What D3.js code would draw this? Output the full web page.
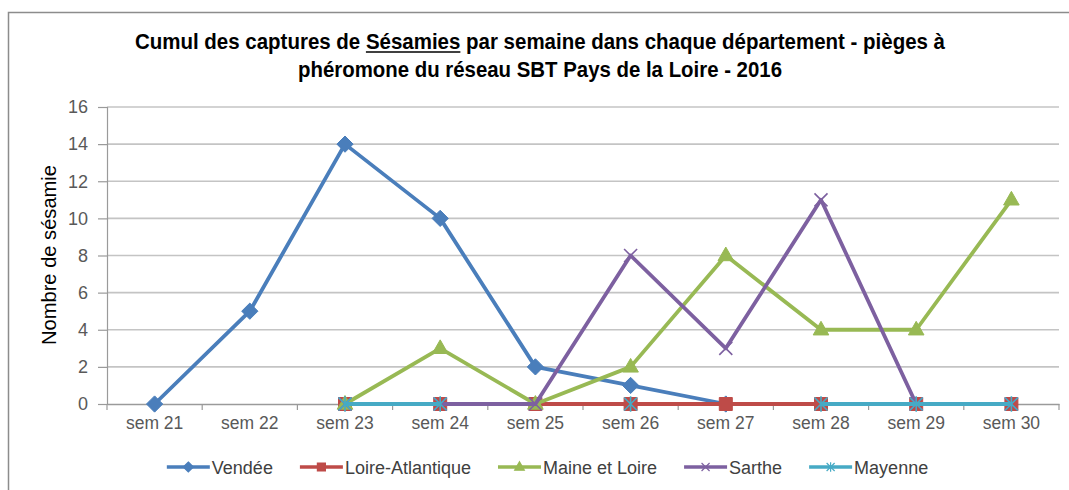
<!DOCTYPE html>
<html>
<head>
<meta charset="utf-8">
<script src="https://cdn.jsdelivr.net/npm/d3@7"></script>
<style>
  body { margin: 0; background: #fff; }
  svg { display: block; }
</style>
</head>
<body>
<div class="root"></div>
<script>
const weeks = ["sem 21", "sem 22", "sem 23", "sem 24", "sem 25", "sem 26", "sem 27", "sem 28", "sem 29", "sem 30"];
const vendee = [0, 5, 14, 10, 2, 1, 0, null, null, null];
const loireAtlantique = [null, null, 0, 0, 0, 0, 0, 0, 0, 0];
const maineEtLoire = [null, null, 0, 3, 0, 2, 8, 4, 4, 11];
const sarthe = [null, null, 0, 0, 0, 8, 3, 11, 0, 0];
const mayenne = [null, null, 0, 0, null, 0, null, 0, 0, 0];
const yTicks = [0, 2, 4, 6, 8, 10, 12, 14, 16];

const series = [
  { name: "Vendée", values: vendee, color: "#4a7ebb", marker: "diamond" },
  { name: "Loire-Atlantique", values: loireAtlantique, color: "#be4b48", marker: "square" },
  { name: "Maine et Loire", values: maineEtLoire, color: "#98b954", marker: "triangle" },
  { name: "Sarthe", values: sarthe, color: "#7d60a0", marker: "x" },
  { name: "Mayenne", values: mayenne, color: "#46aac5", marker: "star" }
];

const width = 1069;
const height = 490;
const plot = { left: 107, right: 1059, top: 107, bottom: 404 };
const font = "'Liberation Sans', Arial, sans-serif";

const svg = d3.select("div.root").append("svg")
  .attr("width", width)
  .attr("height", height);

// outer frame
svg.append("rect")
  .attr("x", 8.5).attr("y", 12.5)
  .attr("width", 1080).attr("height", 500)
  .attr("fill", "#fff")
  .attr("stroke", "#8c8c8c")
  .attr("stroke-width", 1.5);

// title, squeezed to the narrow width of the original font
const line1 = "Cumul des captures de Sésamies par semaine dans chaque département - pièges à";
const t1 = svg.append("text")
  .attr("x", 135).attr("y", 49)
  .attr("textLength", 810)
  .attr("lengthAdjust", "spacingAndGlyphs")
  .attr("font-family", font)
  .attr("font-weight", "bold")
  .attr("font-size", 22)
  .attr("fill", "#000")
  .text(line1);
svg.append("text")
  .attr("x", 298).attr("y", 77)
  .attr("textLength", 484)
  .attr("lengthAdjust", "spacingAndGlyphs")
  .attr("font-family", font)
  .attr("font-weight", "bold")
  .attr("font-size", 22)
  .attr("fill", "#000")
  .text("phéromone du réseau SBT Pays de la Loire - 2016");

// underline under "Sésamies"
const uStart = line1.indexOf("Sésamies");
const uEnd = uStart + "Sésamies".length - 1;
const tn = t1.node();
const ux0 = tn.getStartPositionOfChar(uStart).x;
const ux1 = tn.getEndPositionOfChar(uEnd).x;
svg.append("line")
  .attr("x1", ux0).attr("x2", ux1)
  .attr("y1", 52).attr("y2", 52)
  .attr("stroke", "#000")
  .attr("stroke-width", 1.5);

const x = d3.scaleBand().domain(weeks).range([plot.left, plot.right]);
const cx = d => x(d) + x.bandwidth() / 2;
const y = d3.scaleLinear().domain([0, 16]).range([plot.bottom, plot.top]);

// gridlines
svg.append("g")
  .selectAll("line")
  .data(yTicks.filter(d => d > 0))
  .join("line")
  .attr("x1", plot.left).attr("x2", plot.right)
  .attr("y1", d => y(d)).attr("y2", d => y(d))
  .attr("stroke", "#c4c4c4")
  .attr("stroke-width", 1.6);

// y axis
const yAxis = svg.append("g")
  .attr("transform", `translate(${plot.left},0)`)
  .call(d3.axisLeft(y).tickValues(yTicks).tickSize(9).tickPadding(10).tickFormat(d3.format("d")));
yAxis.select(".domain").attr("stroke", "#9a9a9a").attr("stroke-width", 1.2);
yAxis.selectAll(".tick line").attr("stroke", "#9a9a9a").attr("stroke-width", 1.2);
yAxis.selectAll("text")
  .attr("font-family", font)
  .attr("font-size", 18)
  .attr("fill", "#595959");

// x axis
const xAxis = svg.append("g")
  .attr("transform", `translate(0,${plot.bottom})`)
  .call(d3.axisBottom(x).tickSize(0).tickPadding(13));
xAxis.select(".domain").attr("stroke", "#9a9a9a").attr("stroke-width", 1.6);
xAxis.selectAll("text")
  .attr("font-family", font)
  .attr("font-size", 17.5)
  .attr("fill", "#595959");
xAxis.selectAll("line.bound")
  .data(weeks.map(d => x(d)).concat([plot.right]))
  .join("line")
  .attr("class", "bound")
  .attr("x1", d => d).attr("x2", d => d)
  .attr("y1", 0).attr("y2", 6)
  .attr("stroke", "#9a9a9a")
  .attr("stroke-width", 1.2);

// y label
svg.append("text")
  .attr("transform", "translate(56,255) rotate(-90)")
  .attr("text-anchor", "middle")
  .attr("font-family", font)
  .attr("font-size", 20)
  .attr("fill", "#000")
  .attr("textLength", 180)
  .attr("lengthAdjust", "spacingAndGlyphs")
  .text("Nombre de sésamie");

function markerPath(type, s) {
  const h = s / 2;
  switch (type) {
    case "diamond": return `M0,${-h * 1.25}L${h * 1.25},0L0,${h * 1.25}L${-h * 1.25},0Z`;
    case "square": return `M${-h},${-h}H${h}V${h}H${-h}Z`;
    case "triangle": return `M0,${-h * 1.3}L${h * 1.2},${h * 0.8}L${-h * 1.2},${h * 0.8}Z`;
    case "x": return `M${-h},${-h}L${h},${h}M${h},${-h}L${-h},${h}`;
    case "star": return `M${-h},${-h}L${h},${h}M${h},${-h}L${-h},${h}M0,${-h * 1.2}V${h * 1.2}`;
  }
}
const filled = t => t === "diamond" || t === "square" || t === "triangle";

const line = d3.line()
  .defined(d => d.v !== null)
  .x(d => cx(d.w))
  .y(d => y(d.v));

series.forEach(s => {
  const pts = weeks.map((w, i) => ({ w, v: s.values[i] }));
  const g = svg.append("g");
  g.append("path")
    .datum(pts)
    .attr("d", line)
    .attr("fill", "none")
    .attr("stroke", s.color)
    .attr("stroke-width", 3.8)
    .attr("stroke-linejoin", "round");
  g.selectAll("path.mk")
    .data(pts.filter(d => d.v !== null))
    .join("path")
    .attr("class", "mk")
    .attr("transform", d => `translate(${cx(d.w)},${y(d.v)})`)
    .attr("d", markerPath(s.marker, 13))
    .attr("fill", filled(s.marker) ? s.color : "none")
    .attr("stroke", s.color)
    .attr("stroke-width", filled(s.marker) ? 1 : 1.6);
});

// legend, laid out from measured text widths and centred
const legend = svg.append("g")
  .selectAll("g")
  .data(series)
  .join("g");
legend.append("line")
  .attr("x1", 0).attr("x2", 43)
  .attr("stroke", d => d.color)
  .attr("stroke-width", 3.5);
legend.append("path")
  .attr("transform", "translate(21.5,0)")
  .attr("d", d => markerPath(d.marker, 8))
  .attr("fill", d => filled(d.marker) ? d.color : "none")
  .attr("stroke", d => d.color)
  .attr("stroke-width", 1.2);
legend.append("text")
  .attr("x", 45)
  .attr("y", 6.5)
  .attr("font-family", font)
  .attr("font-size", 18)
  .attr("fill", "#404040")
  .text(d => d.name);

const widths = [];
legend.select("text").each(function () { widths.push(45 + this.getComputedTextLength()); });
const gap = 27;
const total = d3.sum(widths) + gap * (widths.length - 1);
let lx = 547.5 - total / 2;
legend.attr("transform", (d, i) => {
  const tx = lx;
  lx += widths[i] + gap;
  return `translate(${tx},467)`;
});
</script>
</body>
</html>
